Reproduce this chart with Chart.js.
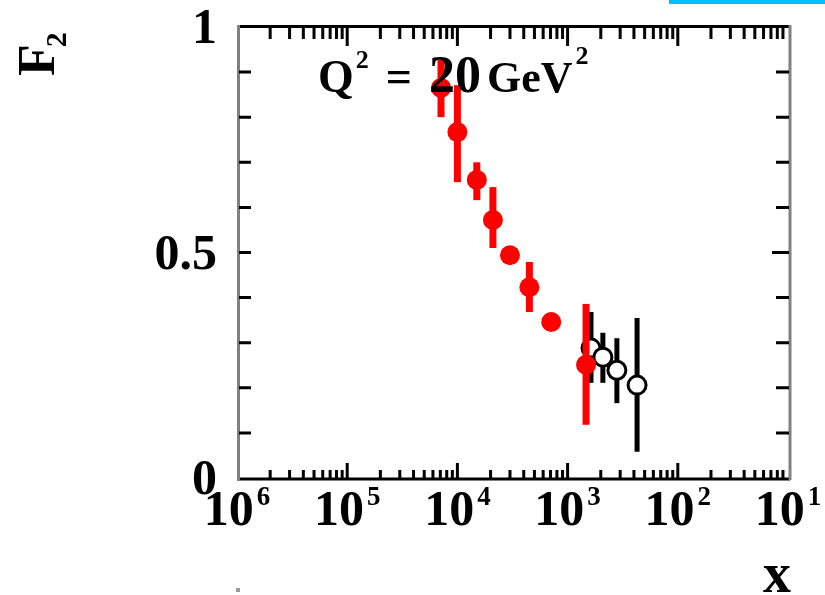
<!DOCTYPE html>
<html>
<head>
<meta charset="utf-8">
<script src="https://cdn.jsdelivr.net/npm/chart.js@4.4.1/dist/chart.umd.min.js"></script>
<style>
  html, body { margin: 0; padding: 0; background: #fff; }
  #wrap { width: 825px; height: 595px; position: relative; }
</style>
</head>
<body>
<div id="wrap"><canvas id="f2"></canvas></div>
<script>
const xTicks = [1e-6, 1e-5, 1e-4, 1e-3, 1e-2, 1e-1];
const xTickExp = ["6", "5", "4", "3", "2", "1"];
const yTicks = [0, 0.5, 1];
const yTickLabels = ["0", "0.5", "1"];

// HERA points, filled red
const heraX = [7.1e-5, 1.0e-4, 1.5e-4, 2.1e-4, 3.0e-4, 4.5e-4, 7.1e-4, 1.47e-3];
const heraY = [0.865, 0.767, 0.661, 0.572, 0.494, 0.423, 0.346, 0.251];
const heraLo = [0.800, 0.656, 0.616, 0.510, 0.480, 0.368, 0.332, 0.118];
const heraHi = [0.927, 0.871, 0.700, 0.645, 0.508, 0.479, 0.360, 0.386];

// fixed target points, open black
const ftX = [1.63e-3, 2.09e-3, 2.8e-3, 4.27e-3];
const ftY = [0.288, 0.268, 0.239, 0.206];
const ftLo = [0.211, 0.211, 0.166, 0.058];
const ftHi = [0.368, 0.322, 0.310, 0.355];

const SERIF = "'Liberation Serif', 'DejaVu Serif', serif";

function pts(xs, ys) {
  return xs.map((x, i) => ({ x: x, y: ys[i] }));
}

const errBars = [
  { lo: heraLo, hi: heraHi, color: "#ff0000", width: 7 },
  { lo: ftLo, hi: ftHi, color: "#000000", width: 5 },
];

// draw a run of text pieces left to right; rise lifts superscripts
function drawRuns(ctx, x, y, runs) {
  runs.forEach((r) => {
    ctx.font = (r.weight || "bold") + " " + r.size + "px " + SERIF;
    ctx.fillText(r.t, x, y - (r.rise || 0));
    x += ctx.measureText(r.t).width + (r.gap || 0);
  });
}

function runsWidth(ctx, runs) {
  let w = 0;
  runs.forEach((r) => {
    ctx.font = (r.weight || "bold") + " " + r.size + "px " + SERIF;
    w += ctx.measureText(r.t).width + (r.gap || 0);
  });
  return w;
}

const errorBarPlugin = {
  id: "errorBars",
  beforeDatasetDraw(chart, args) {
    const eb = errBars[args.index];
    const ds = chart.data.datasets[args.index];
    const ctx = chart.ctx;
    const xs = chart.scales.x, ys = chart.scales.y;
    ctx.save();
    ctx.strokeStyle = eb.color;
    ctx.lineWidth = eb.width;
    ds.data.forEach((p, i) => {
      const px = xs.getPixelForValue(p.x);
      ctx.beginPath();
      ctx.moveTo(px, ys.getPixelForValue(eb.lo[i]));
      ctx.lineTo(px, ys.getPixelForValue(eb.hi[i]));
      ctx.stroke();
    });
    ctx.restore();
  },
};

const framePlugin = {
  id: "frame",
  afterDraw(chart) {
    const ctx = chart.ctx;
    const xs = chart.scales.x, ys = chart.scales.y;
    const a = chart.chartArea;
    ctx.save();

    // box
    ctx.lineWidth = 3;
    ctx.strokeStyle = "#000";
    ctx.beginPath();
    ctx.moveTo(a.left, a.top - 0.5); ctx.lineTo(a.right + 2, a.top - 0.5);
    ctx.moveTo(a.left, a.bottom + 1); ctx.lineTo(a.right + 2, a.bottom + 1);
    ctx.stroke();
    ctx.strokeStyle = "#808080";
    ctx.beginPath();
    ctx.moveTo(a.left + 1.5, a.top - 2); ctx.lineTo(a.left + 1.5, a.bottom + 2);
    ctx.moveTo(a.right + 2, a.top - 2); ctx.lineTo(a.right + 2, a.bottom + 2);
    ctx.stroke();

    // log ticks on bottom and top
    ctx.strokeStyle = "#000";
    ctx.lineWidth = 3;
    for (let d = -6; d < -1; d++) {
      for (let m = 1; m <= 9; m++) {
        const v = m * Math.pow(10, d);
        const px = xs.getPixelForValue(v);
        const major = m === 1;
        if (major && d === -6) continue;
        ctx.beginPath();
        ctx.moveTo(px, a.bottom);
        ctx.lineTo(px, a.bottom - (major ? 15 : 8));
        ctx.moveTo(px, a.top);
        ctx.lineTo(px, a.top + (major ? 19 : 12));
        ctx.stroke();
      }
    }

    // linear ticks every 0.1 on left and right
    for (let k = 1; k < 10; k++) {
      const py = ys.getPixelForValue(k / 10);
      ctx.beginPath();
      ctx.moveTo(a.left + 2, py);
      ctx.lineTo(a.left + 14, py);
      ctx.moveTo(a.right + 1, py);
      ctx.lineTo(a.right + 1 - (k === 5 ? 17 : 13), py);
      ctx.stroke();
    }

    // y tick labels
    ctx.fillStyle = "#000";
    ctx.textAlign = "right";
    ctx.textBaseline = "alphabetic";
    ctx.font = "bold 50px " + SERIF;
    yTicks.forEach((v, i) => {
      ctx.fillText(yTickLabels[i], a.left - 20, ys.getPixelForValue(v) + 16);
    });

    // x tick labels 10^n
    ctx.textAlign = "left";
    xTicks.forEach((v, i) => {
      const runs = [
        { t: "10", size: 50, gap: 3 },
        { t: xTickExp[i], size: 27, rise: 20 },
      ];
      const w = runsWidth(ctx, runs);
      drawRuns(ctx, xs.getPixelForValue(v) - w / 2, 525, runs);
    });

    // axis titles
    ctx.font = "bold 56px " + SERIF;
    ctx.fillText("x", 763, 592);
    ctx.save();
    ctx.translate(54, 76);
    ctx.rotate(-Math.PI / 2);
    drawRuns(ctx, 0, 0, [
      { t: "F", size: 52, gap: -3 },
      { t: "2", size: 30, rise: -12 },
    ]);
    ctx.restore();

    // kinematic label
    drawRuns(ctx, 318, 92, [
      { t: "Q", size: 46, gap: 2 },
      { t: "2", size: 26, rise: 24, gap: 17 },
      { t: "=", size: 46, gap: 17 },
      { t: "20", size: 52, gap: 6 },
      { t: "GeV", size: 44, gap: 3 },
      { t: "2", size: 26, rise: 28 },
    ]);

    ctx.fillStyle = "#999";
    ctx.fillRect(236, 588, 4, 4);

    ctx.fillStyle = "#00bfff";
    ctx.fillRect(669, 0, 156, 4);
    ctx.restore();
  },
};

new Chart(document.getElementById("f2"), {
  type: "scatter",
  data: {
    datasets: [
      {
        label: "HERA",
        data: pts(heraX, heraY),
        pointRadius: 10,
        pointBorderWidth: 0,
        pointBackgroundColor: "#ff0000",
        pointBorderColor: "#ff0000",
      },
      {
        label: "fixed target",
        data: pts(ftX, ftY),
        pointRadius: 9,
        pointBorderWidth: 3,
        pointBackgroundColor: "#ffffff",
        pointBorderColor: "#000000",
      },
    ],
  },
  options: {
    responsive: true,
    maintainAspectRatio: false,
    animation: false,
    layout: { padding: { left: 237, right: 37, top: 27, bottom: 117 } },
    plugins: { legend: { display: false }, tooltip: { enabled: false } },
    scales: {
      x: { type: "logarithmic", min: 1e-6, max: 1e-1, display: false },
      y: { type: "linear", min: 0, max: 1, display: false },
    },
  },
  plugins: [errorBarPlugin, framePlugin],
});
</script>
</body>
</html>
